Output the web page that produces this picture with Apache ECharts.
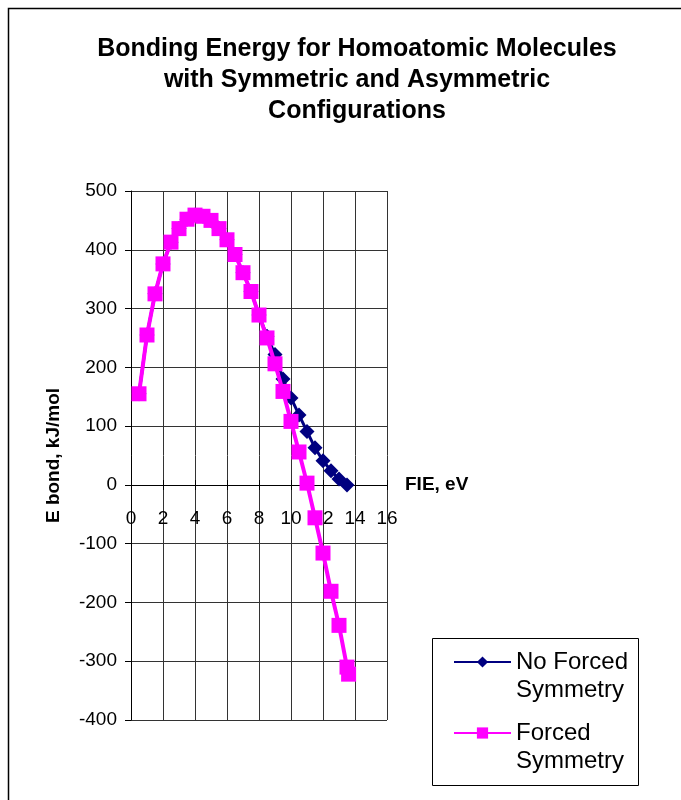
<!DOCTYPE html>
<html>
<head>
<meta charset="utf-8">
<script src="https://cdn.jsdelivr.net/npm/echarts@6/dist/echarts.min.js"></script>
<style>
html,body{margin:0;padding:0;background:#fff;}
#chart{width:681px;height:800px;}
</style>
</head>
<body>
<div id="chart"></div>
<script>
// FIE values (eV)
var fieForced = [0.5,1,1.5,2,2.5,3,3.5,4,4.5,5,5.5,6,6.5,7,7.5,8,8.5,9,9.5,10,10.5,11,11.5,12,12.5,13,13.5,13.6];
var energyForced = [155,255,325,376,413,436,452,459,457,450,436,417,392,361,329,289,250,206,159,108,56,3,-56,-116,-181,-239,-310,-322];

var fieNoForced = [0.5,1,1.5,2,2.5,3,3.5,4,4.5,5,5.5,6,6.5,7,7.5,8,8.5,9,9.5,10,10.5,11,11.5,12,12.5,13,13.5];
var energyNoForced = [155,255,325,376,413,436,452,459,457,450,436,417,392,361,329,289,253,222,180,148,119,91,63,41,24,10,0];

var seriesNames = ['No Forced\nSymmetry', 'Forced\nSymmetry'];
var titleText = 'Bonding Energy for Homoatomic Molecules\nwith Symmetric and Asymmetric\nConfigurations';
var xName = 'FIE, eV';
var yName = 'E bond, kJ/mol';

function pairs(xs, ys){ return xs.map(function(x,i){ return [x, ys[i]]; }); }

var FONT = 'Liberation Sans, Arial, sans-serif';
var chart = echarts.init(document.getElementById('chart'), null, {renderer:'canvas'});
var legendText = {fontFamily: FONT, fontSize: 24, color:'#000', lineHeight: 28};
function legendFmt(name){ return '\n' + name; }
chart.setOption({
  animation:false,
  backgroundColor:'#fff',
  graphic:[
    {type:'rect', shape:{x:8.5,y:8.5,width:700,height:820}, style:{fill:'none',stroke:'#000',lineWidth:1.5}, silent:true},
    {type:'rect', shape:{x:432.5,y:638.5,width:206,height:147}, style:{fill:'#fff',stroke:'#000',lineWidth:1}, silent:true, z:0}
  ],
  title:{
    text:titleText,
    left:352, top:29, textAlign:'center',
    textStyle:{fontFamily:FONT, fontSize:25, fontWeight:'bold', color:'#000', lineHeight:31}
  },
  grid:{left:131, right:294, top:191, bottom:80, containLabel:false},
  xAxis:[{
    type:'value', min:0, max:16, interval:2,
    position:'bottom', offset:-235,
    name:xName, nameLocation:'end', nameGap:18,
    nameTextStyle:{fontFamily:FONT, fontSize:19, fontWeight:'bold', color:'#000', padding:[0,0,16,0]},
    axisLine:{onZero:false, lineStyle:{color:'#000', width:1}},
    axisTick:{show:true, length:5, lineStyle:{color:'#000'}},
    axisLabel:{fontFamily:FONT, fontSize:19, color:'#000', margin:24},
    splitLine:{show:true, lineStyle:{color:'#333', width:1}}
  },{
    type:'value', min:0, max:16, interval:2,
    position:'top', offset:-294,
    axisLine:{show:false, onZero:false},
    axisTick:{show:true, length:5, lineStyle:{color:'#000'}},
    axisLabel:{show:false},
    splitLine:{show:false}
  }],
  yAxis:{
    type:'value', min:-400, max:500, interval:100,
    name:yName, nameLocation:'middle', nameGap:68,
    nameTextStyle:{fontFamily:FONT, fontSize:19, fontWeight:'bold', color:'#000'},
    axisLine:{show:true, lineStyle:{color:'#000', width:1}},
    axisTick:{show:true, length:6, lineStyle:{color:'#000'}},
    axisLabel:{fontFamily:FONT, fontSize:19, color:'#000', margin:14},
    splitLine:{show:true, lineStyle:{color:'#333', width:1}}
  },
  legend:[
    {data:[seriesNames[0]], orient:'vertical', left:453, top:620, padding:0, itemWidth:57, itemHeight:14, itemGap:5, selectedMode:false, formatter:legendFmt, textStyle:legendText, z:5},
    {data:[seriesNames[1]], orient:'vertical', left:453, top:691, padding:0, itemWidth:57, itemHeight:14, itemGap:5, selectedMode:false, formatter:legendFmt, textStyle:legendText, z:5}
  ],
  series:[
    {name:seriesNames[0], type:'line', xAxisIndex:0, data:pairs(fieNoForced, energyNoForced),
     symbol:'diamond', symbolSize:15, color:'#000080',
     lineStyle:{color:'#000080', width:3}, itemStyle:{color:'#000080'}, z:2},
    {name:seriesNames[1], type:'line', xAxisIndex:0, data:pairs(fieForced, energyForced),
     symbol:'rect', symbolSize:15, color:'#ff00ff',
     lineStyle:{color:'#ff00ff', width:4}, itemStyle:{color:'#ff00ff'}, z:3}
  ]
});
</script>
</body>
</html>
